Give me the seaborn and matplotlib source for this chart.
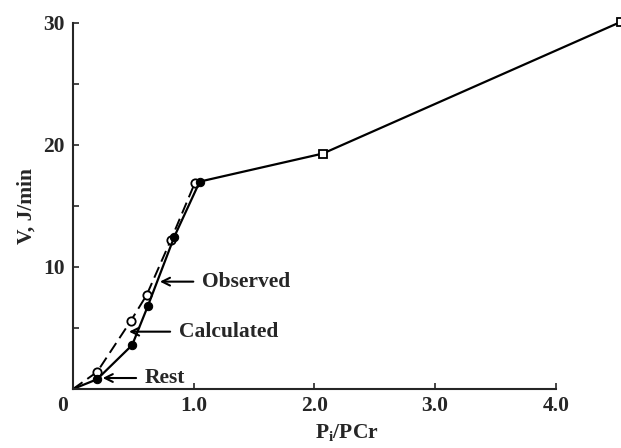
import numpy as np
import pandas as pd
import seaborn as sns
from matplotlib import pyplot as plt

# observed (open circles, dashed) and calculated (filled, solid)
obs_x = [0, 0.20, 0.48, 0.61, 0.81, 1.01]
obs_y = [0, 1.4, 5.6, 7.7, 12.2, 16.9]
calc_x = [0, 0.20, 0.49, 0.62, 0.84, 1.05]
calc_y = [0, 0.8, 3.6, 6.8, 12.5, 17.0]
# high work rate points (open squares)
high_x = [1.05, 2.07, 4.54]
high_y = [17.0, 19.3, 30.1]

xticks = [0, 1, 2, 3, 4]
xticklabels = ['', '1.0', '2.0', '3.0', '4.0']
yticks = [5, 10, 15, 20, 25, 30]
yticklabels = ['', '10', '', '20', '', '30']

sns.set_style('ticks')
plt.rcParams['font.family'] = ['Liberation Serif', 'DejaVu Serif']
plt.rcParams['font.weight'] = 'bold'
plt.rcParams['mathtext.fontset'] = 'custom'
plt.rcParams['mathtext.rm'] = 'Liberation Serif:bold'
plt.rcParams['mathtext.it'] = 'Liberation Serif:bold'

fig = plt.figure(figsize=(6.21, 4.48), dpi=100)
ax = fig.add_axes([73/621, 59/448, 548/621, 366/448])

obs = pd.DataFrame({'x': obs_x, 'y': obs_y})
calc = pd.DataFrame({'x': calc_x, 'y': calc_y})
high = pd.DataFrame({'x': high_x, 'y': high_y})

sns.lineplot(data=obs, x='x', y='y', sort=False, ax=ax, color='black', lw=1.4,
             linestyle=(0, (6, 3)), marker='o', markevery=list(range(1, len(obs_x))),
             markersize=6, markerfacecolor='white', markeredgecolor='black',
             markeredgewidth=1.3, clip_on=False)
sns.lineplot(data=calc, x='x', y='y', sort=False, ax=ax, color='black', lw=1.6,
             marker='o', markevery=list(range(1, len(calc_x))), markersize=6,
             markerfacecolor='black', markeredgecolor='black', clip_on=False)
sns.lineplot(data=high, x='x', y='y', sort=False, ax=ax, color='black', lw=1.6,
             marker='s', markevery=[1, 2], markersize=6, markerfacecolor='white',
             markeredgecolor='black', markeredgewidth=1.3, clip_on=False)

ax.set_xlim(0, 4.54)
ax.set_ylim(0, 30)
ax.set_xticks(xticks)
ax.set_xticklabels(xticklabels)
ax.set_yticks(yticks)
ax.set_yticklabels(yticklabels)
ax.tick_params(direction='in', length=4, width=1.2, labelsize=15.5, pad=6)
ax.tick_params(axis='x', pad=5)
for s in ['top', 'right']:
    ax.spines[s].set_visible(False)
for s in ['left', 'bottom']:
    ax.spines[s].set_linewidth(1.5)
ax.spines['bottom'].set_bounds(0, 4)

ax.annotate('0', xy=(0, 0), xytext=(-10, -17), textcoords='offset pixels',
            ha='center', va='center', fontsize=15.5, fontweight='bold')

ax.set_xlabel(r'P$_\mathregular{i}$/PCr', fontsize=15.5, fontweight='bold', labelpad=4)
ax.set_ylabel('V, J/min', fontsize=15.5, fontweight='bold', labelpad=5)

arrow = dict(arrowstyle='->', lw=1.5, color='black', shrinkA=4, shrinkB=0,
             mutation_scale=14)
ax.annotate('Observed', xy=(0.72, 8.8), xytext=(1.07, 8.8), ha='left', va='center',
            fontsize=15.5, fontweight='bold', arrowprops=arrow)
ax.annotate('Calculated', xy=(0.464, 4.7), xytext=(0.878, 4.7), ha='left', va='center',
            fontsize=15.5, fontweight='bold', arrowprops=arrow)
ax.annotate('Rest', xy=(0.246, 0.9), xytext=(0.596, 0.9), ha='left', va='center',
            fontsize=15.5, fontweight='bold', arrowprops=arrow)

plt.savefig('out.png', dpi=100)
